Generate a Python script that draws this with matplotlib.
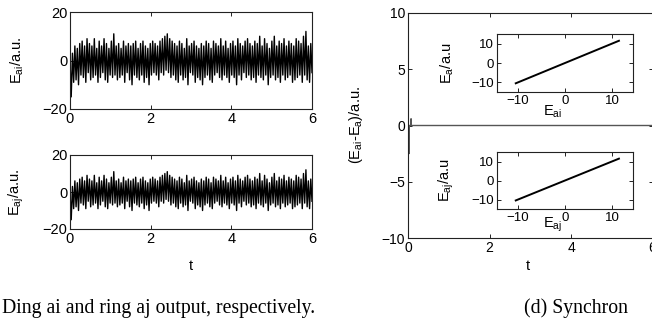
import matplotlib
matplotlib.use("Agg")
from matplotlib import pyplot as plt
import numpy as np

plt.rcParams['font.family'] = ['Liberation Sans', 'DejaVu Sans']
plt.rcParams['mathtext.default'] = 'regular'

# ring ai output (ring aj is synchronised, so it is the same trace)
e_ai = [0, -15, 3, -9, 6, -8, 5, -10, 7, -6,
        8, -7, 6, -9, 9, -5, 7, -8, 6, -7,
        9, -6, 5, -9, 8, -7, 6, -5, 9, -8,
        7, -9, 5, -6, 8, -7, 11, -6, 6, -8,
        7, -7, 5, -6, 8, -9, 6, -5, 7, -8,
        6, -10, 7, -6, 8, -7, 5, -8, 7, -6,
        8, -9, 6, -7, 5, -10, 7, -6, 8, -5,
        7, -6, 6, -8, 8, -5, 9, -6, 10, -4,
        11, -5, 9, -7, 8, -6, 7, -8, 6, -9,
        8, -6, 7, -8, 5, -7, 9, -10, 6, -5,
        7, -6, 8, -9, 6, -7, 5, -8, 7, -10,
        6, -7, 8, -6, 7, -8, 5, -9, 8, -6,
        7, -5, 6, -7, 9, -8, 6, -6, 8, -7,
        5, -9, 7, -6, 8, -7, 6, -10, 9, -6,
        7, -8, 6, -5, 8, -7, 9, -6, 7, -8,
        6, -7, 8, -9, 7, -6, 10, -7, 6, -8,
        9, -6, 7, -10, 5, -7, 8, -6, 10, -8,
        6, -7, 8, -9, 7, -6, 9, -8, 6, -7,
        8, -6, 7, -9, 6, -8, 9, -7, 8, -6,
        7, -9, 10, -6, 12, -8, 6, -9, 7, -5]
e_aj = list(e_ai)
t = np.linspace(0, 6, len(e_ai))

# synchronisation error
err_t = [0, 0.02, 0.025, 0.03, 0.07, 0.075, 0.08, 6.0]
err_val = [0, 0, -2.5, 0, 0, 0.6, 0, 0]

# inset scatter (E_a vs E_ai, E_aj vs E_aj) lies on the diagonal
sync_x = [-10.5, 11.5]
sync_y = [-10.5, 11.5]

W, H = 652, 326
fig = plt.figure(figsize=(6.52, 3.26), dpi=100)

def box(l, t_, r, b):
    return [l / W, 1 - b / H, (r - l) / W, (b - t_) / H]

def matlab_style(ax, size):
    ax.tick_params(direction='in', top=True, right=True, length=3,
                   width=0.6, labelsize=size, pad=2)
    for s in ax.spines.values():
        s.set_linewidth(0.8)
        s.set_color('#222222')

# left column
for k, (vals, lab, pos) in enumerate([(e_ai, r'E$_{ai}$/a.u.', (70, 12, 312, 109)),
                                       (e_aj, r'E$_{aj}$/a.u.', (70, 155, 312, 229))]):
    ax = fig.add_axes(box(*pos))
    ax.plot(t, vals, color='black', lw=1.0)
    ax.set_xlim(0, 6)
    ax.set_ylim(-20, 20)
    ax.set_xticks([0, 2, 4, 6])
    ax.set_yticks([-20, 0, 20])
    matlab_style(ax, 10.5)
    ax.set_ylabel(lab, fontsize=10.5)
    ax.yaxis.set_label_coords(-0.18, 0.5)
    if k == 1:
        ax.set_xlabel('t', fontsize=10.5)
        ax.xaxis.set_label_coords(0.5, -0.4)

# right main plot
axm = fig.add_axes(box(408, 13, 652.5, 238))
axm.plot(err_t, err_val, color='#555555', lw=1.0)
axm.set_xlim(0, 6)
axm.set_ylim(-10, 10)
axm.set_xticks([0, 2, 4, 6])
axm.set_yticks([-10, -5, 0, 5, 10])
matlab_style(axm, 10)
axm.set_ylabel(r'(E$_{ai}$-E$_{a}$)/a.u.', fontsize=10.5)
axm.yaxis.set_label_coords(-0.175, 0.5)
axm.set_xlabel('t', fontsize=10.5)
axm.xaxis.set_label_coords(0.49, -0.095)

# insets
for ylab, xlab, pos, xly in [(r'E$_{a}$/a.u', r'E$_{ai}$', (497, 34, 633, 92), -0.2),
                             (r'E$_{aj}$/a.u', r'E$_{aj}$', (497, 152, 633, 209), -0.12)]:
    axi = fig.add_axes(box(*pos))
    axi.plot(sync_x, sync_y, color='black', lw=1.4)
    axi.set_xlim(-14.5, 14.5)
    axi.set_ylim(-15, 15)
    axi.set_xticks([-10, 0, 10])
    axi.set_yticks([-10, 0, 10])
    matlab_style(axi, 9.5)
    axi.set_ylabel(ylab, fontsize=10.5)
    axi.yaxis.set_label_coords(-0.3, 0.5)
    axi.set_xlabel(xlab, fontsize=10.5)
    axi.xaxis.set_label_coords(0.41, xly)

# caption line cut from the paper page
fig.text(2 / W, 1 - 313 / H, 'Ding ai and ring aj output, respectively.',
         family='Liberation Serif', fontsize=14.2, va='baseline')
fig.text(524 / W, 1 - 313 / H, '(d) Synchron',
         family='Liberation Serif', fontsize=14.2, va='baseline')

fig.savefig('out.png', dpi=100)
